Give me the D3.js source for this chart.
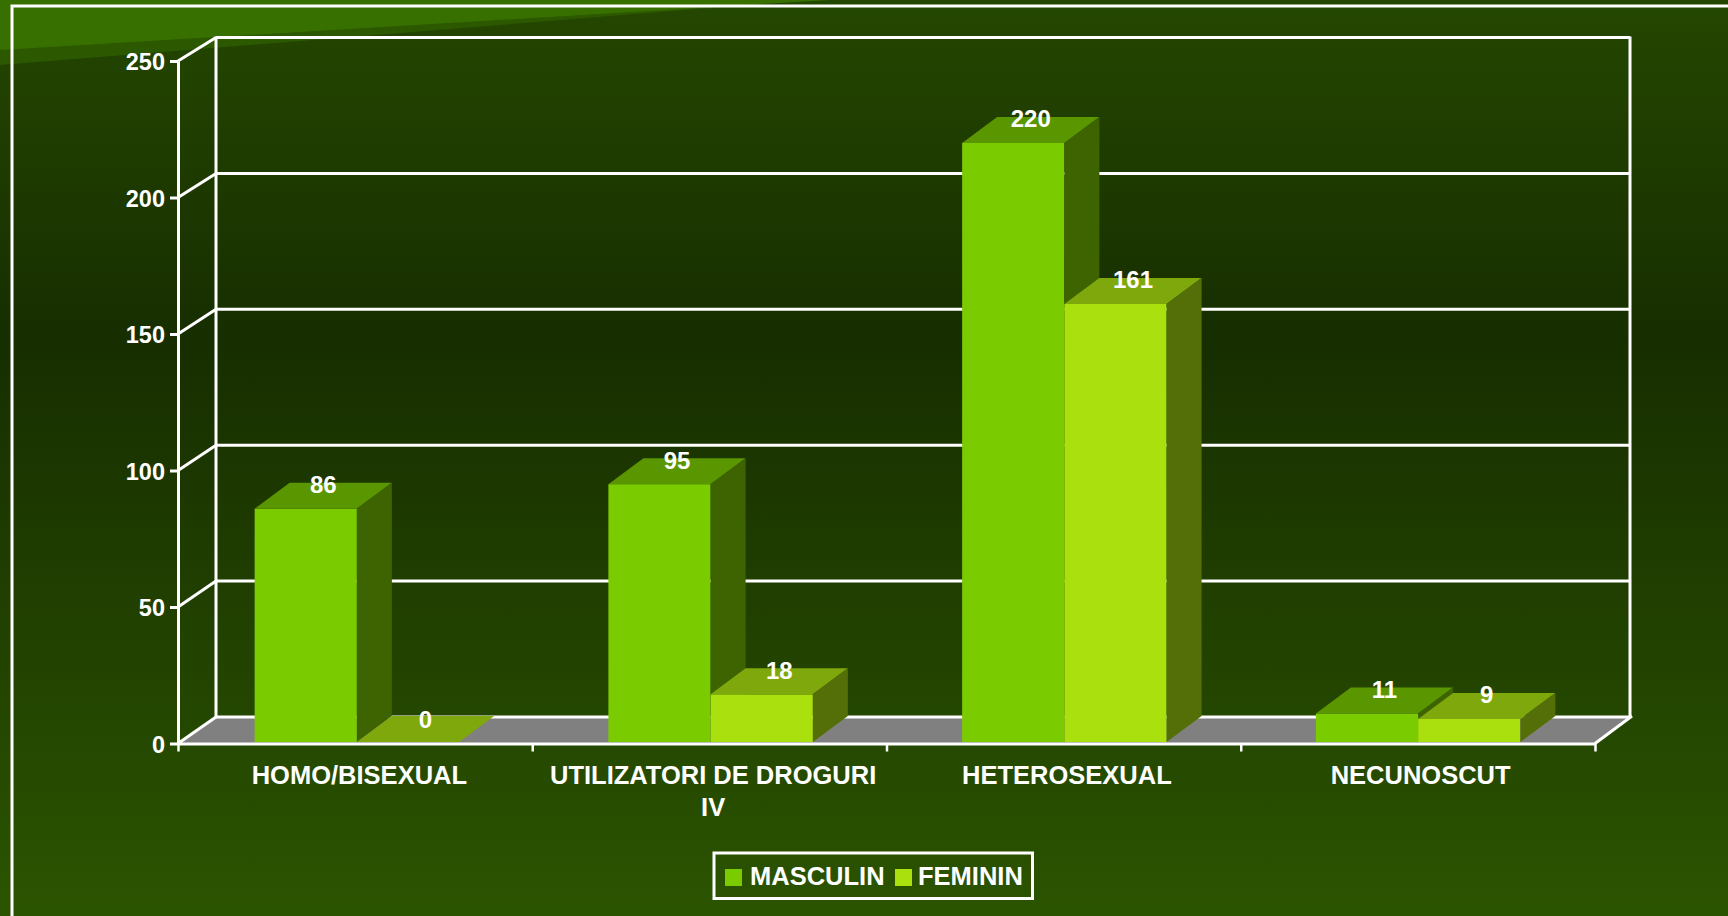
<!DOCTYPE html>
<html>
<head>
<meta charset="utf-8">
<style>
  html, body { margin: 0; padding: 0; background: #172e00; overflow: hidden; }
  svg { display: block; }
  text { font-family: "Liberation Sans", Arial, sans-serif; font-weight: bold; fill: #fff; }
</style>
<script src="https://cdn.jsdelivr.net/npm/d3@7"></script>
</head>
<body>
<svg id="chart" width="1728" height="916"></svg>
<script>
var categories = ["HOMO/BISEXUAL", "UTILIZATORI DE DROGURI\nIV", "HETEROSEXUAL", "NECUNOSCUT"];
var seriesNames = ["MASCULIN", "FEMININ"];
var masculin = [86, 95, 220, 11];
var feminin = [0, 18, 161, 9];
var yTicks = [0, 50, 100, 150, 200, 250];

var svg = d3.select("#chart");
var depthX = 35, depthY = 26;

var front = d3.scaleOrdinal().domain(seriesNames).range(["#7acc00", "#a9e00d"]);
var topFace = d3.scaleOrdinal().domain(seriesNames).range(["#5a9600", "#7fa80c"]);
var sideFace = d3.scaleOrdinal().domain(seriesNames).range(["#3d6400", "#546f08"]);

// background
var defs = svg.append("defs");
var grad = defs.append("linearGradient").attr("id", "bg")
    .attr("x1", 0).attr("y1", 0).attr("x2", 0).attr("y2", 1);
grad.append("stop").attr("offset", 0).attr("stop-color", "#244700");
grad.append("stop").attr("offset", 0.37).attr("stop-color", "#172e00");
grad.append("stop").attr("offset", 1).attr("stop-color", "#2b5400");

svg.append("rect").attr("width", 1728).attr("height", 916).attr("fill", "url(#bg)");
svg.append("path").attr("d", "M0,0L812,0L0,65Z").attr("fill", "#2c5800");
svg.append("path").attr("d", "M0,0L830,0L0,50Z").attr("fill", "#387000");
svg.append("path").attr("d", "M12,916V6H1728").attr("fill", "none")
    .attr("stroke", "#fff").attr("stroke-width", 3);

// scales: the front plane and the back wall of the 3d box differ a little
var axisLeftX = 178, axisRightX = 1595;
var x = d3.scaleBand().domain(categories).range([180, axisRightX]);
var xs = d3.scaleBand().domain(seriesNames).range([0, x.bandwidth()]).paddingOuter(0.73);
var y = d3.scaleLinear().domain([0, 250]).range([743.5, 61]);
var yBack = d3.scaleLinear().domain([0, 250]).range([717, 37.5]);
var edge = d3.scaleLinear().domain([0, categories.length]).range([axisLeftX, axisRightX]);

var backLeft = 216, backRight = 1630;

// floor
svg.append("path")
    .attr("d", d3.line()([[axisLeftX, y(0)], [backLeft, yBack(0)], [backRight, yBack(0)], [axisRightX, y(0)]]))
    .attr("fill", "#808080");

// back wall grid + side wall diagonals
svg.append("g").selectAll("line").data(yTicks).enter().append("line")
    .attr("x1", backLeft).attr("x2", backRight)
    .attr("y1", function(d) { return yBack(d); })
    .attr("y2", function(d) { return yBack(d); })
    .attr("stroke", "#fff").attr("stroke-width", 3);

svg.append("g").selectAll("line").data(yTicks).enter().append("line")
    .attr("x1", axisLeftX).attr("x2", backLeft)
    .attr("y1", function(d) { return y(d); })
    .attr("y2", function(d) { return yBack(d); })
    .attr("stroke", "#fff").attr("stroke-width", 3);

svg.append("line").attr("x1", backLeft).attr("x2", backLeft)
    .attr("y1", yBack(250) - 1).attr("y2", yBack(0))
    .attr("stroke", "#fff").attr("stroke-width", 3);
svg.append("line").attr("x1", backRight).attr("x2", backRight)
    .attr("y1", yBack(250) - 1).attr("y2", yBack(0))
    .attr("stroke", "#fff").attr("stroke-width", 3);
svg.append("line").attr("x1", axisRightX).attr("x2", backRight + 2)
    .attr("y1", y(0)).attr("y2", yBack(0) - 1)
    .attr("stroke", "#fff").attr("stroke-width", 3);

// bars
var bars = [];
categories.forEach(function(c, i) {
  bars.push({cat: c, name: "MASCULIN", value: masculin[i]});
  bars.push({cat: c, name: "FEMININ", value: feminin[i]});
});

var bar = svg.append("g").selectAll("g").data(bars).enter().append("g");
var floorY = y(0) - 1.5;

function bx(d) { return x(d.cat) + xs(d.name); }

bar.append("rect")
    .attr("x", bx)
    .attr("y", function(d) { return y(d.value); })
    .attr("width", xs.bandwidth())
    .attr("height", function(d) { return Math.max(0, floorY - y(d.value)); })
    .attr("fill", function(d) { return front(d.name); });

bar.append("path")
    .attr("d", function(d) {
      var l = bx(d), r = l + xs.bandwidth(), t = Math.min(y(d.value), floorY);
      return d3.line()([[l, t], [l + depthX, t - depthY], [r + depthX, t - depthY], [r, t]]) + "Z";
    })
    .attr("fill", function(d) { return topFace(d.name); });

bar.append("path")
    .attr("d", function(d) {
      var r = bx(d) + xs.bandwidth(), t = Math.min(y(d.value), floorY);
      return d3.line()([[r, t], [r + depthX, t - depthY], [r + depthX, floorY - depthY], [r, floorY]]) + "Z";
    })
    .attr("fill", function(d) { return sideFace(d.name); });

// value labels
svg.append("g").selectAll("text").data(bars).enter().append("text")
    .attr("x", function(d) { return bx(d) + xs.bandwidth() / 2 + depthX / 2; })
    .attr("y", function(d) { return y(d.value) - 15.5; })
    .attr("text-anchor", "middle")
    .attr("font-size", 24)
    .text(function(d) { return d.value; });

// axes
var yAxis = svg.append("g")
    .attr("transform", "translate(" + axisLeftX + ",0)")
    .call(d3.axisLeft(y).tickValues(yTicks).tickSize(8).tickSizeOuter(0).tickPadding(5));
yAxis.selectAll("text").attr("font-size", 23.5).attr("dy", null).attr("y", 8.5)
    .attr("font-family", null);
yAxis.selectAll("line").attr("stroke", "#fff").attr("stroke-width", 3);
yAxis.select(".domain").attr("stroke", "#fff").attr("stroke-width", 3);

var xTicks = svg.append("g")
    .attr("transform", "translate(0," + y(0) + ")")
    .call(d3.axisBottom(edge).ticks(categories.length).tickSize(8).tickSizeOuter(0).tickFormat(""));
xTicks.selectAll("line").attr("stroke", "#fff").attr("stroke-width", 2.5);
xTicks.select(".domain").attr("stroke", "#fff").attr("stroke-width", 3);

var xLabels = svg.append("g")
    .attr("transform", "translate(2.5," + y(0) + ")")
    .call(d3.axisBottom(x).tickSize(0).tickFormat(""));
xLabels.select(".domain").remove();
xLabels.selectAll(".tick text")
    .attr("font-size", 25.5).attr("y", 0).attr("dy", null)
    .each(function(d) {
      var el = d3.select(this);
      d.split("\n").forEach(function(line, i) {
        el.append("tspan").attr("x", 0).attr("y", 40.5 + i * 32).text(line);
      });
    });

// legend
var legend = svg.append("g");
legend.append("rect")
    .attr("x", 714).attr("y", 853).attr("width", 318.5).attr("height", 45.5)
    .attr("fill", "none").attr("stroke", "#fff").attr("stroke-width", 3);
var legendX = d3.scaleOrdinal().domain(seriesNames).range([725, 895]);
var item = legend.selectAll("g").data(seriesNames).enter().append("g")
    .attr("transform", function(d) { return "translate(" + legendX(d) + ",869)"; });
item.append("rect").attr("width", 17).attr("height", 17)
    .attr("fill", function(d) { return front(d); });
item.append("text").attr("x", function(d, i) { return i ? 23 : 25; }).attr("y", 16)
    .attr("font-size", 25.5)
    .text(function(d) { return d; });
</script>
</body>
</html>
